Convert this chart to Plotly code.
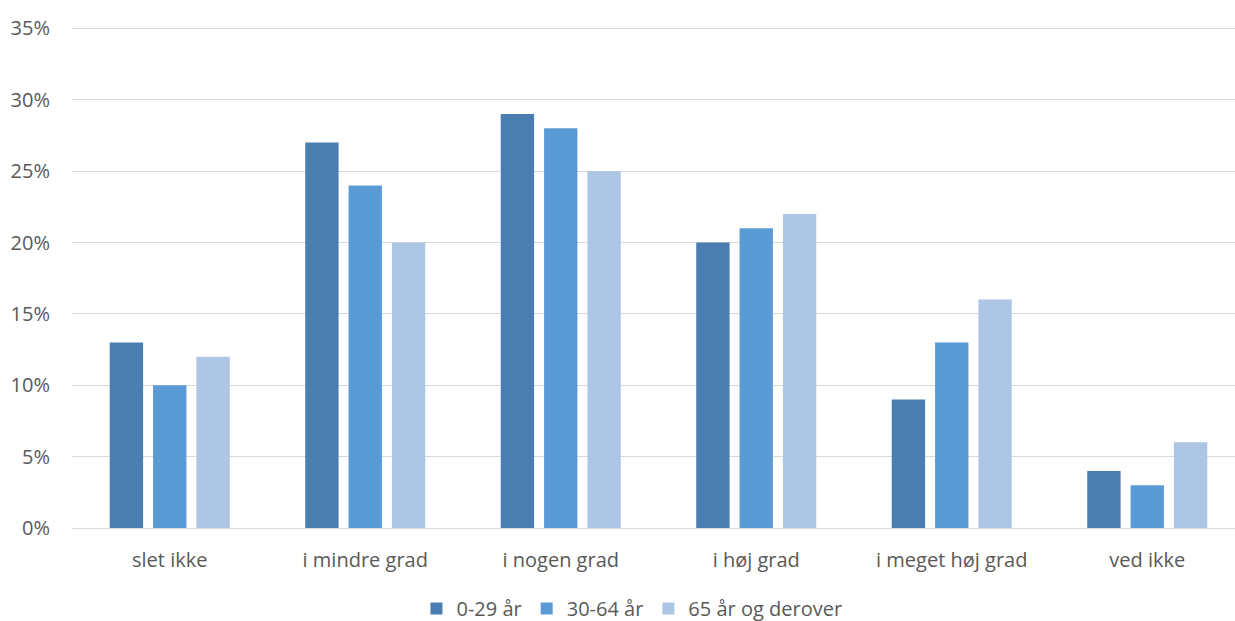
import plotly.graph_objects as go

categories = ["slet ikke", "i mindre grad", "i nogen grad", "i høj grad", "i meget høj grad", "ved ikke"]
series_names = ["0-29 år", "30-64 år", "65 år og derover"]
age_0_29 = [0.13, 0.27, 0.29, 0.20, 0.09, 0.04]
age_30_64 = [0.10, 0.24, 0.28, 0.21, 0.13, 0.03]
age_65_plus = [0.12, 0.20, 0.25, 0.22, 0.16, 0.06]
y_ticks = [0, 0.05, 0.10, 0.15, 0.20, 0.25, 0.30, 0.35]
y_tick_labels = ["0%", "5%", "10%", "15%", "20%", "25%", "30%", "35%"]

colors = ["#4A7EB0", "#5B9BD5", "#ADC6E6"]
values = [age_0_29, age_30_64, age_65_plus]

fig = go.Figure()
for name, vals, c in zip(series_names, values, colors):
    fig.add_trace(go.Bar(x=categories, y=vals, name=name, marker=dict(color=c, line=dict(width=0))))

font_family = "Open Sans, Lato, sans-serif"
fig.update_layout(
    width=1245, height=621,
    margin=dict(l=72, r=0, t=27, b=93, autoexpand=False),
    paper_bgcolor="white", plot_bgcolor="white",
    barmode="group", bargap=0.335, bargroupgap=0.23,
    font=dict(family=font_family, size=20, color="#595959"),
    legend=dict(orientation="h", xref="container", x=0.5076, xanchor="center",
                y=-0.122, yanchor="top",
                font=dict(size=20, color="#595959"), itemwidth=30, traceorder="normal"),
    showlegend=True,
)
fig.update_yaxes(range=[0, 0.351], tickvals=y_ticks, ticktext=y_tick_labels,
                 showgrid=True, gridcolor="#D9D9D9", gridwidth=1, zeroline=False,
                 showline=False, ticks="", ticklabelstandoff=21, automargin=False,
                 tickfont=dict(size=20, color="#595959"))
fig.update_xaxes(showline=True, linecolor="#D9D9D9", linewidth=1, ticks="", automargin=False,
                 tickfont=dict(size=20, color="#595959"), ticklabelstandoff=14)

fig.write_html("out.html", config={"displayModeBar": False},
               post_script="document.body.style.margin='0';document.body.style.overflow='hidden';")
